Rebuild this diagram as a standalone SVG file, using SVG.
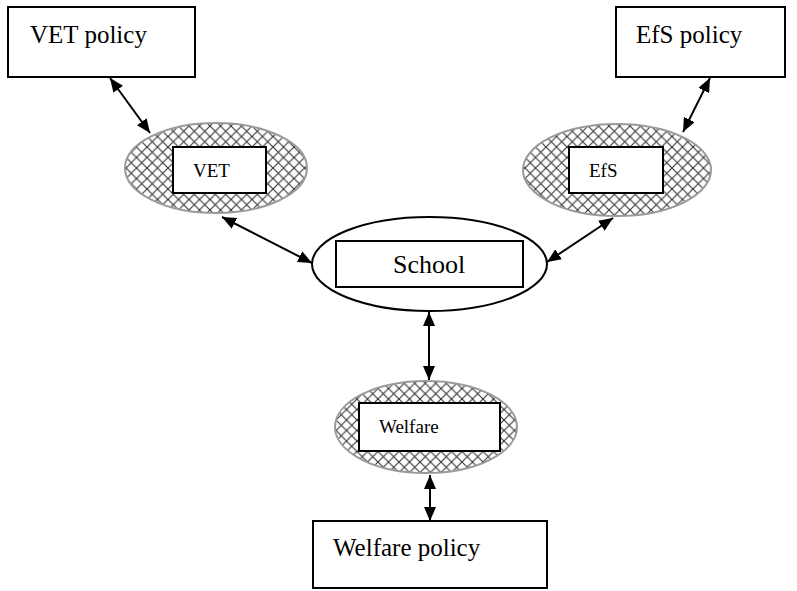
<svg xmlns="http://www.w3.org/2000/svg" width="797" height="591" viewBox="0 0 797 591">
<style>
.box{fill:#fff;stroke:#000;stroke-width:2}
.hatch{fill:url(#xh);stroke:#9a9a9a;stroke-width:2}
.plain{fill:#fff;stroke:#000;stroke-width:2}
.lbl{font-family:"Liberation Serif","Times New Roman",serif;fill:#000}
.big{font-size:25px}
.small{font-size:19px}
.conn{stroke:#000;stroke-width:2;fill:none;marker-start:url(#ah);marker-end:url(#ah)}
</style>
<defs>
<pattern id="xh" width="10.5" height="10.5" patternUnits="userSpaceOnUse">
<rect width="10.5" height="10.5" fill="#fff"/>
<path d="M0,0 L10.5,10.5 M10.5,0 L0,10.5" stroke="#333" stroke-width="1.1"/>
</pattern>
<marker id="ah" viewBox="0 0 14 12" refX="14" refY="6" markerWidth="14" markerHeight="12" markerUnits="userSpaceOnUse" orient="auto-start-reverse">
<path d="M0,0 L14,6 L0,12 z" fill="#000"/>
</marker>
</defs>
<g id="connectors">
<line class="conn" x1="110" y1="78" x2="150" y2="133"/>
<line class="conn" x1="710" y1="78" x2="683" y2="132"/>
<line class="conn" x1="222" y1="217" x2="312" y2="263"/>
<line class="conn" x1="613" y1="218" x2="547" y2="262"/>
<line class="conn" x1="429" y1="312" x2="429" y2="380"/>
<line class="conn" x1="430" y1="475" x2="430" y2="521"/>
</g>
<g id="vet-policy">
<rect class="box" x="8" y="7" width="187" height="70"/>
<text class="lbl big" x="30" y="43">VET policy</text>
</g>
<g id="efs-policy">
<rect class="box" x="616" y="7" width="169" height="70"/>
<text class="lbl big" x="636" y="43">EfS policy</text>
</g>
<g id="vet">
<ellipse class="hatch" cx="216" cy="168" rx="91" ry="45"/>
<rect class="box" x="173" y="147" width="93" height="46"/>
<text class="lbl small" x="193" y="177">VET</text>
</g>
<g id="efs">
<ellipse class="hatch" cx="617" cy="170" rx="94" ry="46"/>
<rect class="box" x="569" y="147" width="94" height="46"/>
<text class="lbl small" x="589" y="177">EfS</text>
</g>
<g id="school">
<ellipse class="plain" cx="429.5" cy="264" rx="117.5" ry="47"/>
<rect class="box" x="336" y="241" width="187" height="46"/>
<text class="lbl" style="font-size:26px" x="393" y="273">School</text>
</g>
<g id="welfare">
<ellipse class="hatch" cx="426" cy="427" rx="91" ry="46"/>
<rect class="box" x="359" y="403" width="141" height="48"/>
<text class="lbl small" x="379" y="433">Welfare</text>
</g>
<g id="welfare-policy">
<rect class="box" x="313" y="521" width="234" height="67"/>
<text class="lbl big" x="333" y="556">Welfare policy</text>
</g>
</svg>
